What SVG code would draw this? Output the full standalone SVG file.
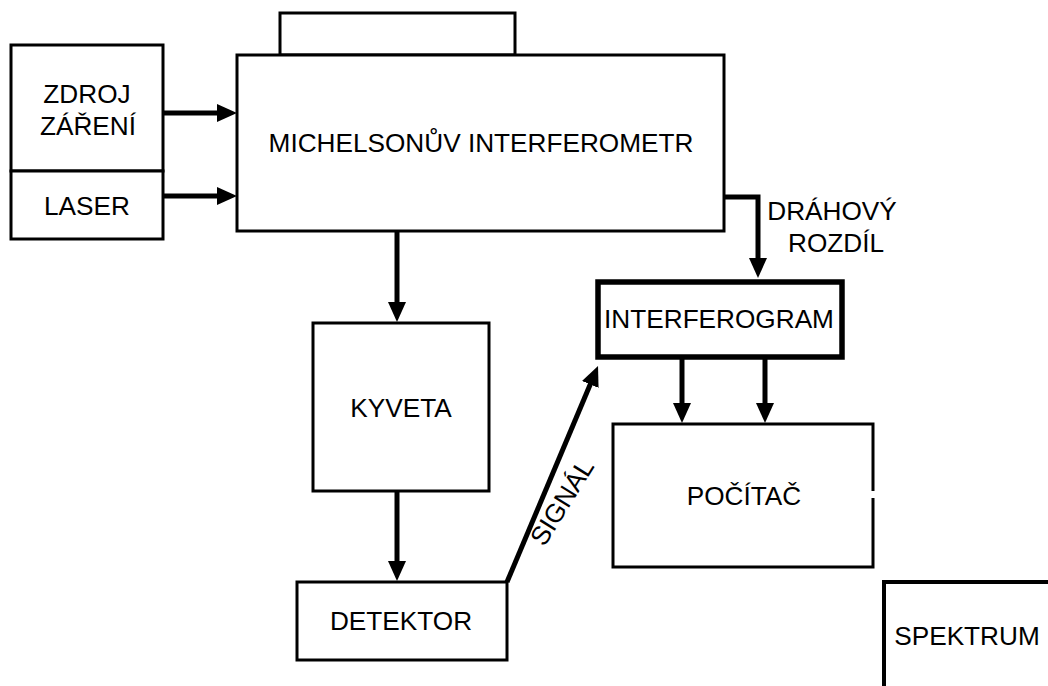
<svg xmlns="http://www.w3.org/2000/svg" width="1048" height="686" viewBox="0 0 1048 686">
<defs>
<style>
.box{fill:#fff;stroke:#000;stroke-width:3}
.thick{fill:#fff;stroke:#000;stroke-width:5.5}
.t{font-family:"Liberation Sans",Arial,sans-serif;font-size:26.2px;fill:#000;text-anchor:middle}
.c{fill:none;stroke:#000;stroke-width:5}
</style>
<marker id="ah" markerUnits="userSpaceOnUse" markerWidth="20" markerHeight="18" refX="5" refY="9" orient="auto">
<path d="M0,0 L20,9 L0,18 z" fill="#000"/>
</marker>
</defs>
<rect width="1048" height="686" fill="#fff"/>
<g id="connectors">
<line class="c" x1="163" y1="113" x2="222" y2="113" marker-end="url(#ah)"/>
<line class="c" x1="163" y1="196" x2="222" y2="196" marker-end="url(#ah)"/>
<line class="c" x1="397" y1="231" x2="397" y2="307" marker-end="url(#ah)"/>
<line class="c" x1="397" y1="491" x2="397" y2="566" marker-end="url(#ah)"/>
<polyline class="c" points="724,197 758,197 758,263" marker-end="url(#ah)"/>
<line class="c" x1="682" y1="357" x2="682" y2="408" marker-end="url(#ah)"/>
<line class="c" x1="765" y1="357" x2="765" y2="408" marker-end="url(#ah)"/>
<line class="c" x1="507" y1="582" x2="592.2" y2="379.8" marker-end="url(#ah)"/>
<text class="t" transform="translate(562,502) rotate(-58)" x="0" y="9">SIGNÁL</text>
<text class="t" x="832" y="220">DRÁHOVÝ</text>
<text class="t" x="836" y="252">ROZDÍL</text>
</g>
<g id="zdroj">
<rect class="box" x="11" y="45" width="152" height="126"/>
<text class="t" x="87" y="103">ZDROJ</text>
<text class="t" x="88" y="135">ZÁŘENÍ</text>
</g>
<g id="laser">
<rect class="box" x="11" y="171" width="152" height="68"/>
<text class="t" x="87" y="215">LASER</text>
</g>
<g id="michelson">
<rect class="box" x="280" y="13" width="235" height="42"/>
<rect class="box" x="237" y="55" width="487" height="176"/>
<text class="t" x="481" y="152">MICHELSONŮV INTERFEROMETR</text>
</g>
<g id="kyveta">
<rect class="box" x="313" y="323" width="176" height="168"/>
<text class="t" x="401" y="417">KYVETA</text>
</g>
<g id="detektor">
<rect class="box" x="297" y="582" width="210" height="78"/>
<text class="t" x="401" y="630">DETEKTOR</text>
</g>
<g id="interferogram">
<rect class="thick" x="598" y="282" width="244" height="75"/>
<text class="t" x="719" y="328">INTERFEROGRAM</text>
</g>
<g id="pocitac">
<rect x="613" y="424" width="260" height="143" fill="#fff" stroke="none"/>
<path d="M873,491 L873,424 L613,424 L613,567 L873,567 L873,498" fill="none" stroke="#000" stroke-width="3"/>
<text class="t" x="744" y="505">POČÍTAČ</text>
</g>
<g id="spektrum">
<path d="M884,690 L884,582 L1052,582" fill="none" stroke="#000" stroke-width="4"/>
<text class="t" x="967" y="645">SPEKTRUM</text>
</g>
</svg>
